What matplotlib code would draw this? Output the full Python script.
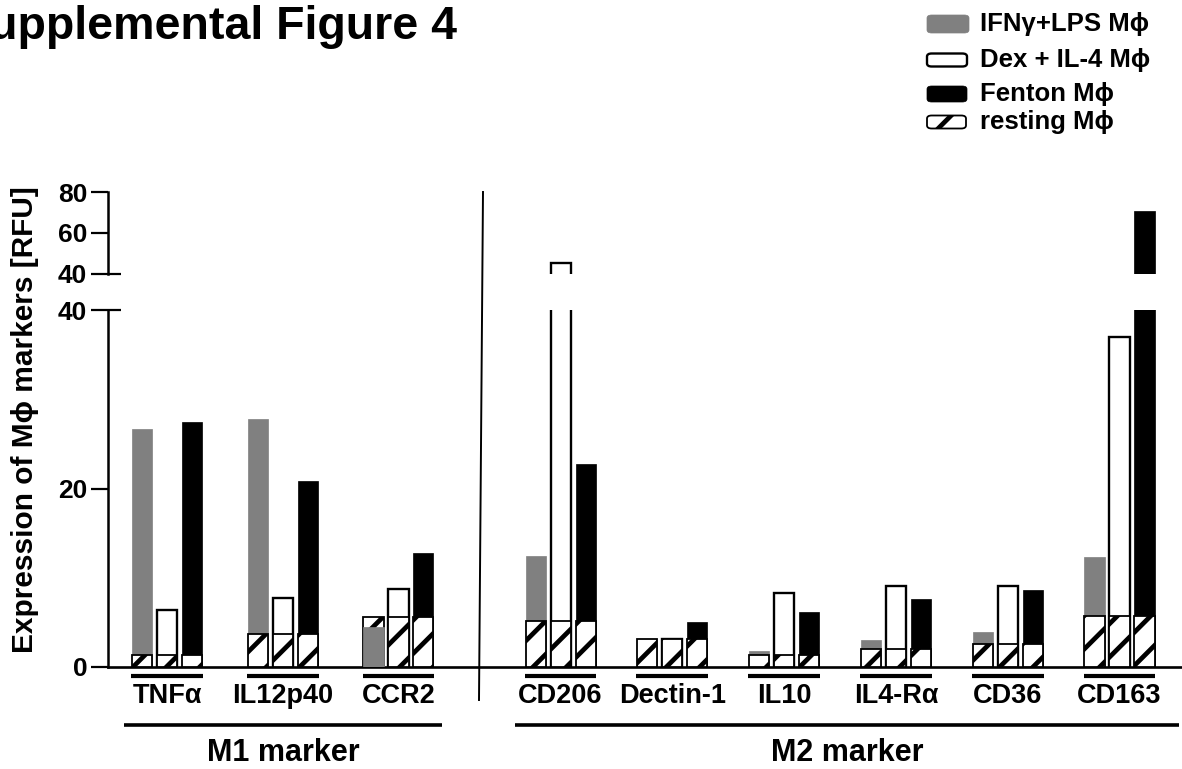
import numpy as np
import matplotlib
matplotlib.use("Agg")
import matplotlib.pyplot as plt
import matplotlib.transforms as mtrans
from matplotlib.patches import FancyBboxPatch
from matplotlib.lines import Line2D

plt.rcParams['font.family'] = ['Liberation Sans', 'DejaVu Sans']
plt.rcParams['font.weight'] = 'bold'
plt.rcParams['hatch.linewidth'] = 3.4

# ---------------- data ----------------
categories = ['TNFα', 'IL12p40', 'CCR2', 'CD206', 'Dectin-1', 'IL10', 'IL4-Rα', 'CD36', 'CD163']
ifn_lps = [26.7, 27.8, 4.5, 12.4, 3.1, 1.8, 3.0, 3.9, 12.3]
dex_il4 = [6.4, 7.7, 8.7, 45.4, 3.1, 8.3, 9.1, 9.1, 37.0]
fenton = [27.4, 20.8, 12.8, 22.8, 5.0, 6.2, 7.6, 8.6, 70.7]
resting = [1.3, 3.7, 5.6, 5.1, 3.1, 1.4, 2.0, 2.6, 5.7]
series_labels = ['IFNγ+LPS Mϕ', 'Dex + IL-4 Mϕ', 'Fenton Mϕ', 'resting Mϕ']
group_labels = ['M1 marker', 'M2 marker']
n_m1, n_m2 = 3, 6
lower_ticks = [0, 20, 40]
upper_ticks = [40, 60, 80]
ylabel = 'Expression of Mϕ markers [RFU]'
title = 'Supplemental Figure 4'

# ---------------- layout ----------------
W, H = 1182, 769
def fx(px):
    return px / W
def fy(py):
    return 1 - py / H

pos = np.concatenate([np.arange(n_m1) * 1.0, 3.40 + np.arange(n_m2) * 0.966])
width = 0.173
pitch = 0.216
xlim = (-0.51, 8.77)

fig = plt.figure(figsize=(W / 100, H / 100), dpi=100)
axL = fig.add_axes([fx(108), fy(667), fx(1182) - fx(108), fy(310) - fy(667)])
axU = fig.add_axes([fx(108), fy(274), fx(1182) - fx(108), fy(192) - fy(274)])

styles = [
    dict(facecolor='#808080', edgecolor='#808080', linewidth=0.5),
    dict(facecolor='white', edgecolor='black', linewidth=1.7),
    dict(facecolor='black', edgecolor='black', linewidth=0.5),
]
hatch_style = dict(facecolor='white', edgecolor='black', linewidth=1.3, hatch='/')
series = [ifn_lps, dex_il4, fenton]

for ax in (axL, axU):
    for k, (vals, st) in enumerate(zip(series, styles)):
        xs = pos + (k - 1) * pitch
        for xi, v, r in zip(xs, vals, resting):
            if v >= r:
                ax.bar(xi, v, width, zorder=2, **st)
                ax.bar(xi, r, width, zorder=3, **hatch_style)
            else:
                ax.bar(xi, r, width, zorder=2, **hatch_style)
                ax.bar(xi, v, width, zorder=3, **st)
    ax.set_xlim(*xlim)
    for s in ('top', 'right'):
        ax.spines[s].set_visible(False)
    ax.spines['left'].set_linewidth(1.8)
    ax.tick_params(axis='y', direction='out', length=12, width=1.6, labelsize=19, pad=3)
    ax.set_facecolor('none')

axL.set_ylim(0, 40)
axL.set_yticks(lower_ticks)
axL.set_xticks([])
axL.spines['bottom'].set_linewidth(1.9)

axU.set_ylim(40, 80)
axU.set_yticks(upper_ticks)
axU.set_xticks([])
axU.spines['bottom'].set_visible(False)

# break caps at 40
for ax in (axL, axU):
    tr = mtrans.blended_transform_factory(ax.transAxes, ax.transData)
    ax.plot([0, 13 / 1074], [40, 40], transform=tr, color='black', lw=1.6,
            clip_on=False, solid_capstyle='butt')

# category labels and underlines
trans = mtrans.blended_transform_factory(axL.transData, fig.transFigure)
for p, cat in zip(pos, categories):
    axL.text(p, fy(703), cat, ha='center', va='baseline', fontsize=19.5,
             fontweight='bold', transform=trans)
    axL.plot([p - 0.31, p + 0.31], [fy(676), fy(676)], transform=trans,
             color='black', lw=3.0, clip_on=False, solid_capstyle='butt')

# group brackets
bracket_spans = [(pos[0] - 0.37, pos[n_m1 - 1] + 0.38), (pos[n_m1] - 0.39, pos[-1] + 0.51)]
for (a, b), lab in zip(bracket_spans, group_labels):
    axL.plot([a, b], [fy(725), fy(725)], transform=trans, color='black', lw=2.6,
             clip_on=False, solid_capstyle='butt')
    axL.text((a + b) / 2, fy(761), lab, ha='center', va='baseline', fontsize=22,
             fontweight='bold', transform=trans)

# divider line
fig.add_artist(Line2D([fx(483), fx(479)], [fy(192), fy(700)], color='black', lw=1.4))

# y label and title
fig.text(fx(25), fy(420), ylabel, rotation=90, ha='center', va='center',
         fontsize=21.5, fontweight='bold')
fig.text(fx(457), fy(39), title, ha='right', va='baseline', fontsize=33.5,
         fontweight='bold')

# legend (manual)
leg_rows = [24, 60, 94, 122]
leg_sizes = [(42, 18), (40, 13), (40, 16), (39, 13)]
leg_styles = [
    dict(facecolor='#808080', edgecolor='#808080', linewidth=0.5),
    dict(facecolor='white', edgecolor='black', linewidth=1.7),
    dict(facecolor='black', edgecolor='black', linewidth=0.5),
    dict(facecolor='white', edgecolor='black', linewidth=1.3, hatch='/'),
]
for yc, (w, h), st, lab in zip(leg_rows, leg_sizes, leg_styles, series_labels):
    x0 = 927
    patch = FancyBboxPatch((fx(x0), fy(yc + h / 2)), fx(w), fy(0) - fy(h),
                           boxstyle='round,pad=0,rounding_size=0.004',
                           transform=fig.transFigure, **st)
    fig.add_artist(patch)
    fig.text(fx(980), fy(yc), lab, ha='left', va='center', fontsize=18.5,
             fontweight='bold')

fig.savefig('out.png', dpi=100)
